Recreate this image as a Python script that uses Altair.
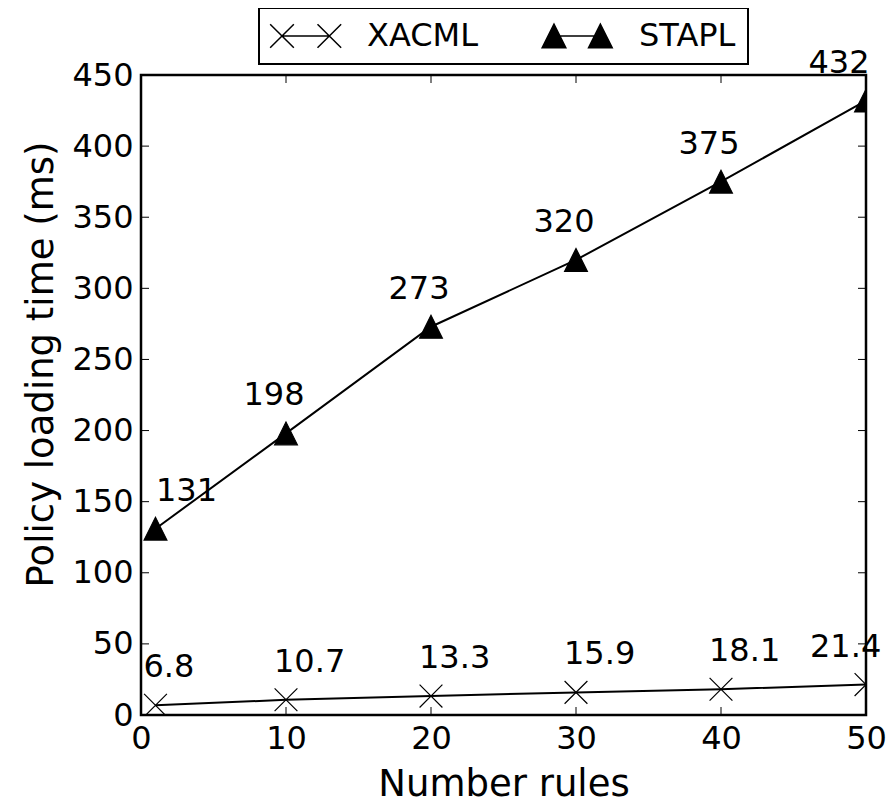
import altair as alt
import pandas as pd

# ---- data ----
rules = [1, 10, 20, 30, 40, 50]
xacml = [6.8, 10.7, 13.3, 15.9, 18.1, 21.4]
stapl = [131, 198, 273, 320, 375, 432]
series_names = ["XACML", "STAPL"]
x_ticks = [0, 10, 20, 30, 40, 50]
y_ticks = [0, 50, 100, 150, 200, 250, 300, 350, 400, 450]

df = pd.DataFrame({
    "series": ["XACML"] * len(rules) + ["STAPL"] * len(rules),
    "x": rules + rules,
    "y": xacml + stapl,
    "idx": list(range(len(rules))) * 2,
})
df["label"] = [f"{v:.1f}" for v in xacml] + [str(v) for v in stapl]
xdf = pd.DataFrame({"x": x_ticks})
ydf = pd.DataFrame({"y": y_ticks})

# ---- styling ----
W, H = 725, 640
FONT = "DejaVu Sans"
X_PLOT = "M-1,-1L1,1M-1,1L1,-1"
TRI_PLOT = "M0,-1L-1,1L1,1Z"
X_LEG = "M-1,-1L1,1M-1,1L1,-1M0,0L4,0M3,-1L5,1M3,1L5,-1"
TRI_LEG = "M0,-1L-1,1L1,1ZM0,0L3.92,0M3.92,-1L2.92,1L4.92,1Z"

xs = alt.Scale(domain=[0, 50], nice=False, zero=False)
ys = alt.Scale(domain=[0, 450], nice=False, zero=False)
xaxis = alt.Axis(values=x_ticks, ticks=False, domain=False, grid=False,
                 labelFontSize=32, labelFont=FONT, labelColor="black",
                 labelPadding=8, labelFlush=False, labelOverlap=False,
                 title="Number rules", titleFont=FONT, titleFontSize=37,
                 titleFontWeight="normal", titleColor="black",
                 titleBaseline="alphabetic", titleY=80)
yaxis = alt.Axis(values=y_ticks, ticks=False, domain=False, grid=False,
                 labelFontSize=32, labelFont=FONT, labelColor="black",
                 labelPadding=8, labelFlush=False, labelOverlap=False,
                 title="Policy loading time (ms)", titleFont=FONT, titleFontSize=37,
                 titleFontWeight="normal", titleColor="black", titleAngle=-90,
                 titleBaseline="alphabetic", titleAlign="center", titleX=-89, titleY=289)
X = alt.X("x:Q", scale=xs, axis=xaxis)
Y = alt.Y("y:Q", scale=ys, axis=yaxis)

base = alt.Chart(df)

lines = base.mark_line(color="black", strokeWidth=2, clip=True).encode(
    x=X, y=Y, detail="series:N")

points = base.mark_point(filled=True, color="black", stroke="black", strokeWidth=1.2,
                         size=520, opacity=1, clip=True).encode(
    x=X, y=Y,
    shape=alt.Shape("series:N", scale=alt.Scale(domain=series_names, range=[X_PLOT, TRI_PLOT]),
                    legend=None))

legend_layer = base.mark_point(filled=False, color="black", strokeWidth=1.5,
                               opacity=1).encode(
    shape=alt.Shape("series:N",
                    scale=alt.Scale(domain=series_names, range=[X_LEG, TRI_LEG]),
                    legend=alt.Legend(orient="none", legendX=118, legendY=-67,
                                      direction="horizontal", title=None,
                                      labelFont=FONT, labelFontSize=32, labelColor="black",
                                      labelOffset=69, symbolSize=560, symbolStrokeWidth=1.5,
                                      symbolOffset=-5,
                                      columnPadding=60, padding=12, strokeColor="black")),
    fill=alt.value("black"),
).transform_filter("false")

text_kw = dict(baseline="alphabetic", dy=-28, fontSize=32, font=FONT, color="black")
stapl_main = base.transform_filter("datum.series == 'STAPL' && datum.idx > 0 && datum.idx < 5").mark_text(
    align="center", dx=-12, **text_kw).encode(x=X, y=Y, text="label:N")
stapl_first = base.transform_filter("datum.series == 'STAPL' && datum.idx == 0").mark_text(
    align="center", dx=31, **text_kw).encode(x=X, y=Y, text="label:N")
stapl_last = base.transform_filter("datum.series == 'STAPL' && datum.idx == 5").mark_text(
    align="center", dx=-27, **text_kw).encode(x=X, y=Y, text="label:N")
xacml_main = base.transform_filter("datum.series == 'XACML' && datum.idx < 5").mark_text(
    align="left", dx=-12, **text_kw).encode(x=X, y=Y, text="label:N")
xacml_last = base.transform_filter("datum.series == 'XACML' && datum.idx == 5").mark_text(
    align="left", dx=-56, **text_kw).encode(x=X, y=Y, text="label:N")

tick_left = alt.Chart(ydf).mark_rule(color="black", strokeWidth=1).encode(
    y=Y, x=alt.value(0), x2=alt.value(8))
tick_right = alt.Chart(ydf).mark_rule(color="black", strokeWidth=1).encode(
    y=Y, x=alt.value(W - 8), x2=alt.value(W))
tick_bottom = alt.Chart(xdf).mark_rule(color="black", strokeWidth=1).encode(
    x=X, y=alt.value(H - 8), y2=alt.value(H))
tick_top = alt.Chart(xdf).mark_rule(color="black", strokeWidth=1).encode(
    x=X, y=alt.value(0), y2=alt.value(8))

chart = alt.layer(
    tick_left, tick_right, tick_bottom, tick_top,
    lines, points, legend_layer,
    stapl_main, stapl_first, stapl_last, xacml_main, xacml_last,
).resolve_scale(shape="independent").properties(
    width=W, height=H,
    padding={"left": 133, "top": 67, "right": 20, "bottom": 88},
    autosize=alt.AutoSizeParams(type="none"),
    background="white",
).configure_view(stroke="black", strokeWidth=2.5).configure_legend(strokeWidth=2)

chart.save("out.html", embed_options={"renderer": "svg", "actions": False})
